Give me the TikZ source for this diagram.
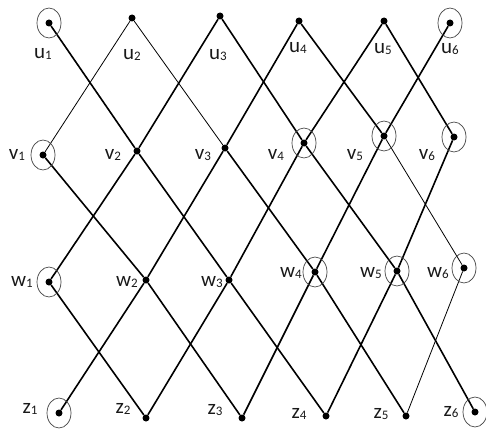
\documentclass[tikz,border=0pt]{standalone}
\usepackage{fontspec}
\setmainfont{Carlito}
\tikzset{
  dot/.style={circle,fill=black,inner sep=0pt,minimum size=7pt},
  ring/.style={draw=black!75,line width=0.7pt},
  edge/.style={line width=1.6pt},
  thinedge/.style={line width=0.8pt},
  lab/.style={inner sep=0pt,text=black!90,font=\fontsize{21}{21}\selectfont}
}
\newcommand{\vx}[2]{#1\raisebox{-1.5pt}{\fontsize{13}{13}\selectfont #2}}

\begin{document}
\begin{tikzpicture}[x=1pt,y=-1pt]
  \useasboundingbox (0,0) rectangle (486,428);
  \foreach \n/\x/\y in {u1/49/23,u2/132/18,u3/220/16,u4/299/21,u5/384/21,u6/450/23,
                        v1/43/155,v2/137/151,v3/225/148,v4/304/143,v5/384/136,v6/454/137,
                        w1/49/282,w2/146/280,w3/229/280,w4/315/272,w5/397/271,w6/464/268,
                        z1/59/413,z2/146/418,z3/242/418,z4/326/416,z5/406/416,z6/475/412}
    \node[dot] (\n) at (\x,\y) {};
  \foreach \a/\b in {u1/v2,u3/v2,u3/v4,u4/v3,u4/v5,u5/v4,u5/v6,u6/v5,
                     v1/w2,v2/w1,v2/w3,v3/w2,v3/w4,v4/w3,v4/w5,v5/w4,v6/w5,
                     w1/z2,w2/z1,w2/z3,w3/z2,w3/z4,w4/z3,w4/z5,w5/z4,w5/z6}
    \draw[edge] (\a) -- (\b);
  \foreach \a/\b in {u2/v1,u2/v3,v5/w6,w6/z5}
    \draw[thinedge] (\a) -- (\b);
  \foreach \n in {u1,u6,v1,v4,v5,v6,w1,w4,w5,w6,z1,z6}
    \draw[ring] (\n) ellipse (12pt and 15pt);
  \foreach \l/\i/\x/\y in {u/1/43/54,u/2/132/55,u/3/218/55,u/4/298/48,u/5/383/49,u/6/450/49,
                           v/1/17/155,v/2/113/155,v/3/203/155,v/4/276/155,v/5/355/155,v/6/427/155,
                           w/1/22/282,w/2/127/282,w/3/212/282,w/4/291/273,w/5/371/273,w/6/438/273,
                           z/1/30/409,z/2/123/409,z/3/215/410,z/4/299/414,z/5/381/414,z/6/451/412}
    \node[lab] (l\l\i) at (\x,\y) {\vx{\l}{\i}};
\end{tikzpicture}
\end{document}
